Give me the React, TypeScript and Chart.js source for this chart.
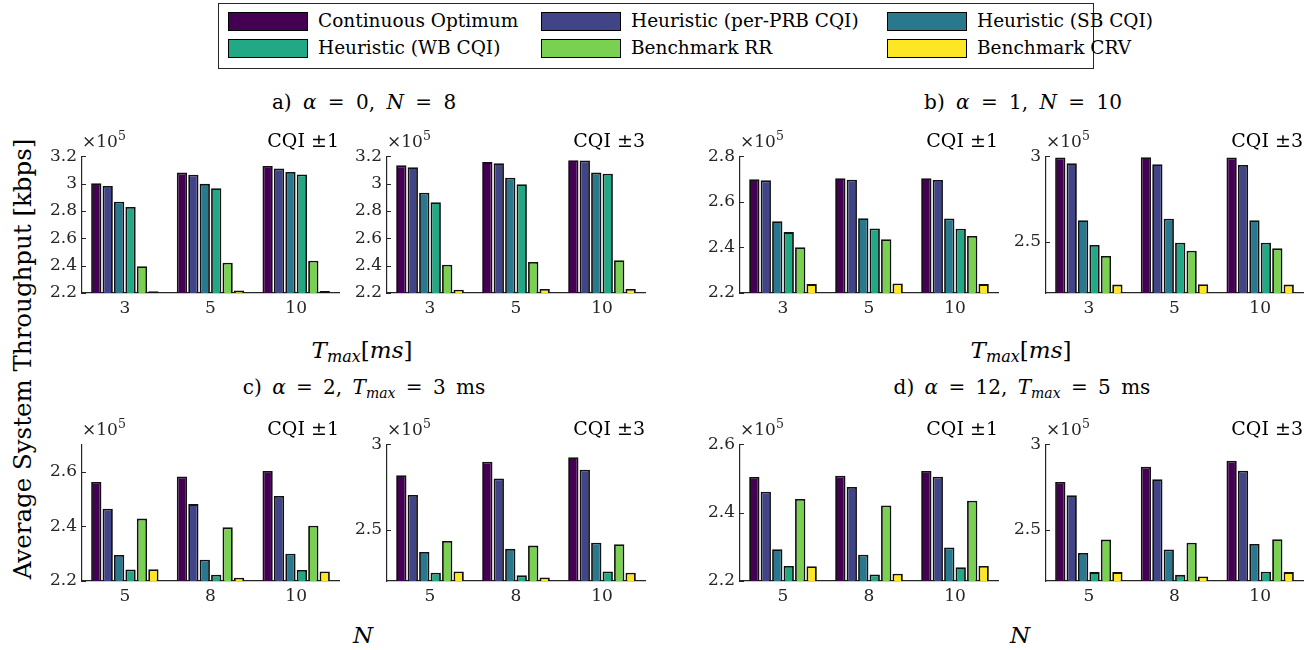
import React, { useEffect, useRef } from "react";
import { Chart, registerables } from "chart.js";
Chart.register(...registerables);

// ---------- data ----------
const seriesNames = [
  "Continuous Optimum",
  "Heuristic (per-PRB CQI)",
  "Heuristic (SB CQI)",
  "Heuristic (WB CQI)",
  "Benchmark RR",
  "Benchmark CRV",
];
const seriesColors = ["#440154", "#414487", "#2a788e", "#22a884", "#7ad151", "#fde725"];

const tmaxLabels = ["3", "5", "10"];
const nLabels = ["5", "8", "10"];

const ticksA = [220000, 240000, 260000, 280000, 300000, 320000];
const ticksB1 = [220000, 240000, 260000, 280000];
const ticksHalf = [250000, 300000];
const ticksC1 = [220000, 240000, 260000];
const ticksD1 = [220000, 240000, 260000];

// a) alpha = 0, N = 8   (rows = series, cols = Tmax 3,5,10)
const panelA1 = [
  [300200, 308000, 312800],
  [298300, 306500, 311100],
  [286700, 299800, 308400],
  [282900, 296600, 306700],
  [239500, 242200, 243600],
  [221200, 221900, 221400],
];
const panelA2 = [
  [313300, 315700, 317100],
  [312000, 314900, 316900],
  [293300, 304300, 308000],
  [286300, 299500, 307200],
  [240700, 242700, 243900],
  [222400, 222900, 222900],
];
// b) alpha = 1, N = 10
const panelB1 = [
  [269900, 270300, 270300],
  [269400, 269700, 269600],
  [251500, 252800, 252700],
  [246700, 248300, 248200],
  [240100, 243600, 245000],
  [223900, 224200, 223900],
];
const panelB2 = [
  [299200, 299400, 299200],
  [295900, 295300, 294900],
  [262600, 263400, 262600],
  [248100, 249400, 249400],
  [241600, 244700, 246100],
  [224900, 225100, 224900],
];
// c) alpha = 2, Tmax = 3 ms  (cols = N 5,8,10)
const panelC1 = [
  [256200, 258200, 260200],
  [246400, 248100, 251100],
  [229500, 227800, 230000],
  [224200, 222300, 224000],
  [242800, 239600, 240200],
  [224300, 221200, 223500],
];
const panelC2 = [
  [281800, 289700, 292400],
  [270300, 280000, 285100],
  [237000, 238800, 242400],
  [224800, 223300, 225600],
  [243400, 240700, 241500],
  [225600, 222100, 224800],
];
// d) alpha = 12, Tmax = 5 ms
const panelD1 = [
  [250400, 250800, 252200],
  [246100, 247500, 250500],
  [229300, 227700, 229800],
  [224400, 221900, 224000],
  [244000, 242100, 243500],
  [224300, 222100, 224400],
];
const panelD2 = [
  [277900, 286800, 290300],
  [270200, 279500, 284500],
  [236400, 238400, 241700],
  [225200, 223600, 225400],
  [244200, 242400, 244400],
  [225200, 222700, 225200],
];

// ---------- layout / style ----------
const FONT = "'DejaVu Serif', 'Liberation Serif', serif";
const AXIS = "#262626";
const YW = 50; // y-axis box width
const PT = 14; // top padding
const PR = 6; // right padding
const XH = 32; // x-axis box height
const PH = 138; // plot height

type PanelDef = {
  values: number[][];
  labels: string[];
  min: number;
  max: number;
  ticks: number[];
  left: number;
  top: number;
  width: number;
  cqi: string;
};

const panels: PanelDef[] = [
  { values: panelA1, labels: tmaxLabels, min: 220000, max: 320000, ticks: ticksA, left: 82, top: 155, width: 257, cqi: "CQI ±1" },
  { values: panelA2, labels: tmaxLabels, min: 220000, max: 320000, ticks: ticksA, left: 387, top: 155, width: 258, cqi: "CQI ±3" },
  { values: panelB1, labels: tmaxLabels, min: 220000, max: 280000, ticks: ticksB1, left: 740, top: 155, width: 258, cqi: "CQI ±1" },
  { values: panelB2, labels: tmaxLabels, min: 220000, max: 300000, ticks: ticksHalf, left: 1046, top: 155, width: 257, cqi: "CQI ±3" },
  { values: panelC1, labels: nLabels, min: 220000, max: 270000, ticks: ticksC1, left: 82, top: 443, width: 257, cqi: "CQI ±1" },
  { values: panelC2, labels: nLabels, min: 220000, max: 300000, ticks: ticksHalf, left: 387, top: 443, width: 258, cqi: "CQI ±3" },
  { values: panelD1, labels: nLabels, min: 220000, max: 260000, ticks: ticksD1, left: 740, top: 443, width: 258, cqi: "CQI ±1" },
  { values: panelD2, labels: nLabels, min: 220000, max: 300000, ticks: ticksHalf, left: 1046, top: 443, width: 257, cqi: "CQI ±3" },
];

const innerTicks = {
  id: "innerTicks",
  afterDraw(chart: any) {
    const { ctx, chartArea, scales } = chart;
    const y = scales.y;
    ctx.save();
    ctx.strokeStyle = AXIS;
    ctx.lineWidth = 1;
    y.ticks.forEach((t: any) => {
      const py = Math.round(y.getPixelForValue(t.value)) + 0.5;
      ctx.beginPath();
      ctx.moveTo(chartArea.left, py);
      ctx.lineTo(chartArea.left + 4, py);
      ctx.stroke();
    });
    ctx.restore();
  },
};

function fmt(v: number) {
  return String(+(v / 100000).toFixed(2));
}

function Panel({ p }: { p: PanelDef }) {
  const ref = useRef<HTMLCanvasElement>(null);
  const cw = YW + p.width + PR;
  const ch = PT + PH + XH;
  useEffect(() => {
    const chart = new Chart(ref.current as HTMLCanvasElement, {
      type: "bar",
      data: {
        labels: p.labels,
        datasets: p.values.map((v, i) => ({
          label: seriesNames[i],
          data: v,
          backgroundColor: seriesColors[i],
          borderColor: "#111111",
          borderWidth: 1.8,
          borderSkipped: false,
          categoryPercentage: 0.8,
          barPercentage: 0.9,
        })),
      },
      options: {
        responsive: false,
        animation: false,
        devicePixelRatio: 1,
        layout: { padding: { top: PT, right: PR, left: 0, bottom: 0 } },
        plugins: { legend: { display: false }, tooltip: { enabled: false } },
        scales: {
          x: {
            offset: true,
            grid: { display: false, drawTicks: false },
            border: { display: true, color: AXIS, width: 1.2 },
            ticks: { color: AXIS, font: { family: FONT, size: 17 }, padding: 5, maxRotation: 0 },
            afterFit: (s: any) => {
              s.height = XH;
            },
          },
          y: {
            min: p.min,
            max: p.max,
            grid: { display: false, drawTicks: false },
            border: { display: true, color: AXIS, width: 1.2 },
            ticks: {
              color: AXIS,
              font: { family: FONT, size: 17 },
              padding: 5,
              callback: (v: any) => fmt(Number(v)),
            },
            afterBuildTicks: (s: any) => {
              s.ticks = p.ticks.map((v) => ({ value: v }));
            },
            afterFit: (s: any) => {
              s.width = YW;
            },
          },
        },
      } as any,
      plugins: [innerTicks],
    });
    return () => chart.destroy();
  }, []);
  return (
    <>
      <canvas
        ref={ref}
        width={cw}
        height={ch}
        style={{ position: "absolute", left: p.left - YW, top: p.top - PT, width: cw, height: ch }}
      />
      <div
        style={{
          position: "absolute",
          left: p.left,
          top: p.top - 22,
          fontFamily: FONT,
          fontSize: 17,
          lineHeight: "17px",
          color: AXIS,
          whiteSpace: "nowrap",
        }}
      >
        ×10<sup style={{ fontSize: 12.5, verticalAlign: "7px", lineHeight: 0 }}>5</sup>
      </div>
      <div
        style={{
          position: "absolute",
          right: 1313 - (p.left + p.width),
          top: p.top - 25,
          fontFamily: FONT,
          fontSize: 19,
          lineHeight: "20px",
          color: "#000",
          whiteSpace: "nowrap",
        }}
      >
        {p.cqi}
      </div>
    </>
  );
}

function Txt({ x, y, size, children, ls = 0, ws = 0, rotate = false }: any) {
  return (
    <div
      style={{
        position: "absolute",
        left: x,
        top: y,
        transform: `translate(-50%, -50%)${rotate ? " rotate(-90deg)" : ""}`,
        fontFamily: FONT,
        fontSize: size,
        lineHeight: 1,
        whiteSpace: "nowrap",
        color: "#000",
        letterSpacing: ls,
        wordSpacing: ws,
      }}
    >
      {children}
    </div>
  );
}

const legendCols = [228, 541, 887];
const legendRows = [21, 48];

function Legend() {
  return (
    <div
      style={{
        position: "absolute",
        left: 218,
        top: 3,
        width: 874,
        height: 64,
        border: `1px solid ${AXIS}`,
        background: "#fff",
      }}
    >
      {seriesNames.map((n, i) => {
        const c = i % 3;
        const r = Math.floor(i / 3);
        const sx = legendCols[c] - 219;
        const cy = legendRows[r] - 4;
        return (
          <React.Fragment key={n}>
            <div
              style={{
                position: "absolute",
                left: sx,
                top: cy - 9,
                width: 78,
                height: 17,
                background: seriesColors[i],
                border: "1px solid #000",
              }}
            />
            <div
              style={{
                position: "absolute",
                left: sx + 90,
                top: cy - 11,
                fontFamily: FONT,
                fontSize: 18.5,
                lineHeight: "22px",
                whiteSpace: "nowrap",
                color: "#000",
              }}
            >
              {n}
            </div>
          </React.Fragment>
        );
      })}
    </div>
  );
}

const Sub = () => (
  <sub style={{ fontSize: "0.7em", verticalAlign: "-0.3em", lineHeight: 0 }}>
    <i>max</i>
  </sub>
);

const TmaxTitle = () => (
  <span>
    <i>T</i>
    <Sub />[<i>ms</i>]
  </span>
);

export default function App() {
  return (
    <div
      style={{
        position: "absolute",
        left: 0,
        top: 0,
        width: 1313,
        height: 650,
        background: "#fff",
        overflow: "hidden",
      }}
    >
      <Legend />
      <Txt x={364} y={102} size={20} ws={5}>
        a) <i>α</i> = 0, <i>N</i> = 8
      </Txt>
      <Txt x={1023} y={102} size={20} ws={5}>
        b) <i>α</i> = 1, <i>N</i> = 10
      </Txt>
      <Txt x={364} y={387} size={20} ws={4}>
        c) <i>α</i> = 2, <i>T</i>
        <Sub /> = 3 ms
      </Txt>
      <Txt x={1022} y={387} size={20} ws={4}>
        d) <i>α</i> = 12, <i>T</i>
        <Sub /> = 5 ms
      </Txt>
      <Txt x={362} y={350} size={23}>
        <TmaxTitle />
      </Txt>
      <Txt x={1021} y={350} size={23}>
        <TmaxTitle />
      </Txt>
      <Txt x={363} y={635} size={23}>
        <i>N</i>
      </Txt>
      <Txt x={1020} y={635} size={23}>
        <i>N</i>
      </Txt>
      <Txt x={23} y={359} size={24.5} rotate>
        Average System Throughput [kbps]
      </Txt>
      {panels.map((p, i) => (
        <Panel key={i} p={p} />
      ))}
    </div>
  );
}
